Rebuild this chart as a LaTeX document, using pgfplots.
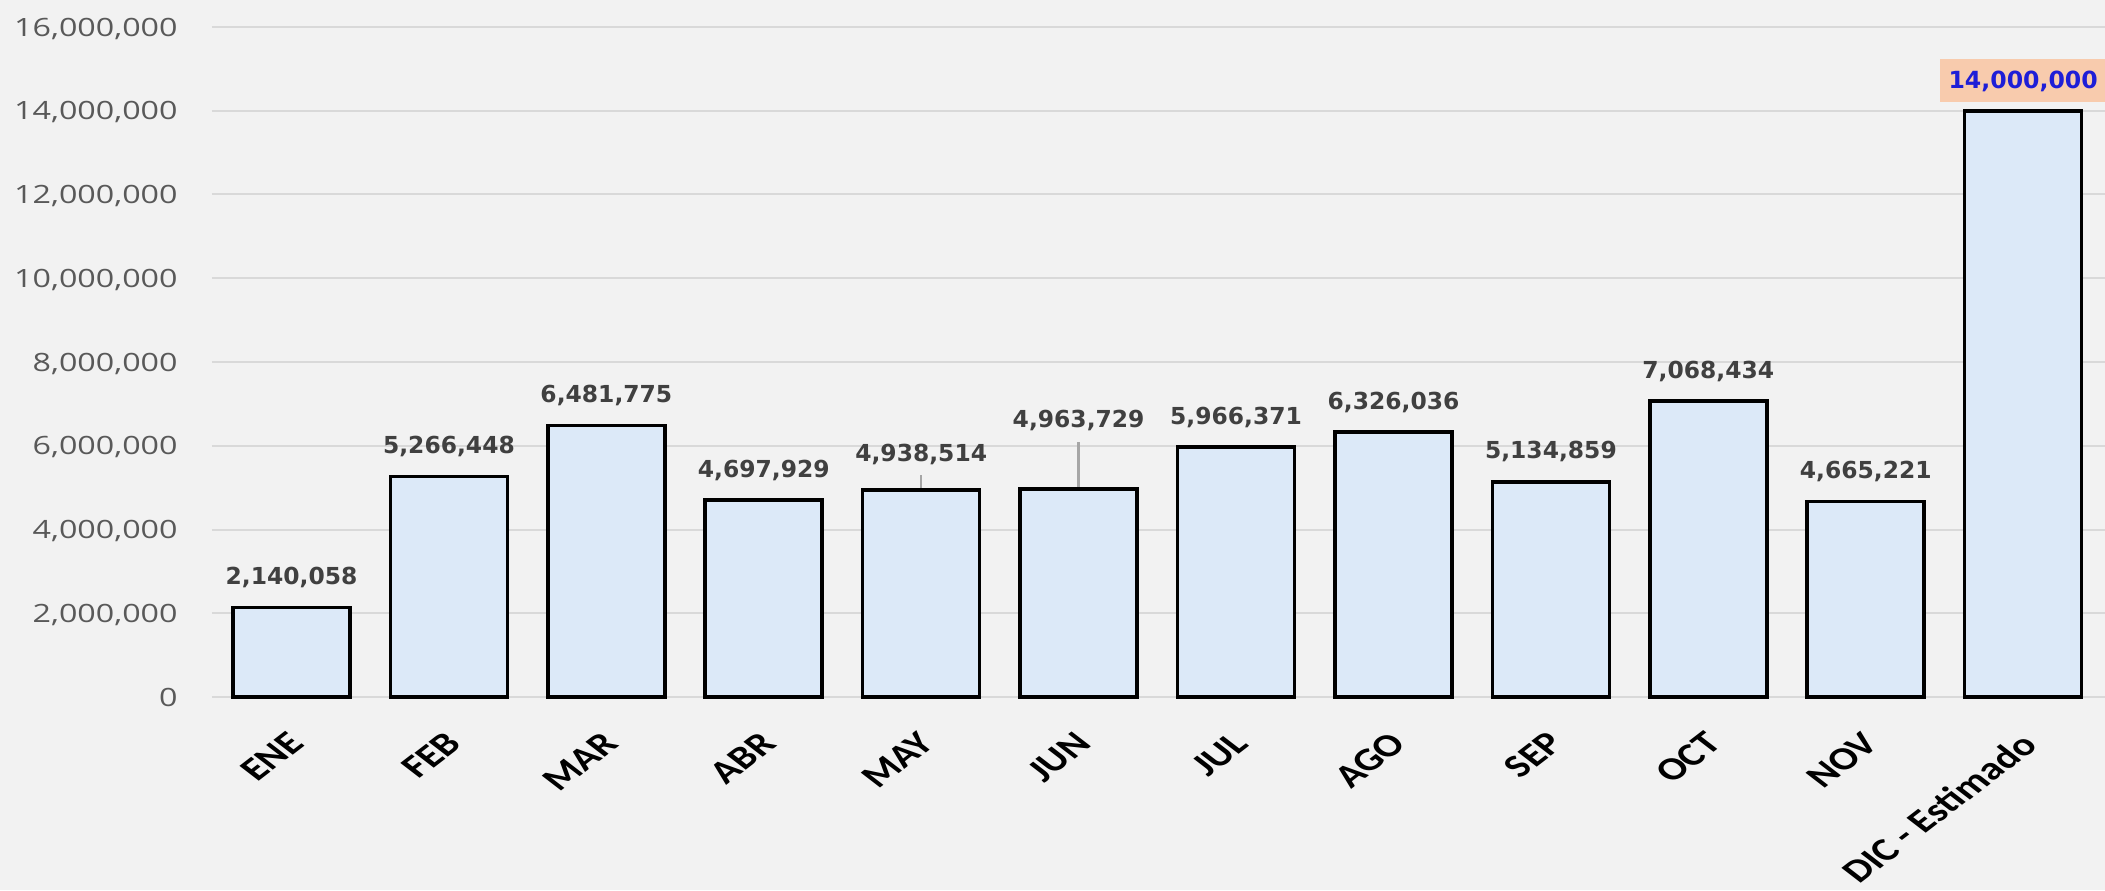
\documentclass[border=0pt]{standalone}
\usepackage{pgfplots}
\pgfplotsset{compat=1.18}
\usepackage{pgfplotstable}
\usepackage{fontspec}
\setmainfont{Open Sans}
\newfontfamily\tickfont{Open Sans}[FakeStretch=1.28]
\newfontfamily\lblfont{DejaVu Sans}
\newfontfamily\catfont{Carlito}
\definecolor{bgc}{HTML}{F2F2F2}
\definecolor{gridc}{HTML}{D9D9D9}
\definecolor{barc}{RGB}{220,233,248}
\definecolor{tickc}{HTML}{595959}
\definecolor{lblc}{HTML}{404040}
\definecolor{leadc}{HTML}{A6A6A6}
\definecolor{dicblue}{RGB}{30,30,215}
\definecolor{peach}{HTML}{F8CBAD}

\pgfplotstableread{
x y
0 2140058
1 5266448
2 6481775
3 4697929
4 4938514
5 4963729
6 5966371
7 6326036
8 5134859
9 7068434
10 4665221
11 14000000
}\bars

\pgfplotstableread{
x ly lab
0 2689058 2,140,058
1 5815448 5,266,448
2 7030775 6,481,775
3 5246929 4,697,929
4 5612000 4,938,514
5 6424000 4,963,729
6 6515371 5,966,371
7 6875036 6,326,036
8 5683859 5,134,859
9 7617434 7,068,434
10 5214221 4,665,221
}\labs

\pgfplotstableread{
x ly lab
11 14520000 14,000,000
}\diclab

\begin{document}
\begin{tikzpicture}
\fill[bgc] (0,0) rectangle (1052.5pt,445pt);
\begin{axis}[
  at={(106pt,96.5pt)}, anchor=south west,
  scale only axis, width=946.5pt, height=335pt,
  xmin=-0.505, xmax=11.52, ymin=0, ymax=16000000,
  clip=false,
  scaled y ticks=false,
  axis line style={draw=none},
  major tick length=0pt,
  ymajorgrids,
  grid style={draw=gridc, line width=1pt},
  ytick={0,2000000,4000000,6000000,8000000,10000000,12000000,14000000,16000000},
  yticklabels={0,{2,000,000},{4,000,000},{6,000,000},{8,000,000},{10,000,000},{12,000,000},{14,000,000},{16,000,000}},
  yticklabel style={font=\tickfont\fontsize{12.6}{14}\selectfont, text=tickc, anchor=east, inner sep=0pt, text depth=0pt, xshift=-17pt},
  xtick={0,1,2,3,4,5,6,7,8,9,10,11},
  xticklabels={ENE,FEB,MAR,ABR,MAY,JUN,JUL,AGO,SEP,OCT,NOV,DIC - Estimado},
  xticklabel style={font=\catfont\bfseries\fontsize{16.2}{18}\selectfont, text=black, inner sep=0pt, xshift=-2.5pt, yshift=-16.5pt, xscale=1.3, rotate=45, anchor=north east},
]
\addplot[leadc, line width=1.2pt] coordinates {(4,4938514) (4,5301000)};
\addplot[leadc, line width=1.2pt] coordinates {(5,4963729) (5,6090000)};
\addplot[ybar, bar width=58.5pt, fill=barc, draw=black, line width=1.8pt] table[x=x,y=y]{\bars};
\addplot[draw=none, mark=none, nodes near coords, point meta=explicit symbolic,
  nodes near coords style={font=\lblfont\bfseries\fontsize{11.7}{13}\selectfont, text=lblc, anchor=base, inner sep=0pt, text depth=0pt}]
  table[x=x,y=ly,meta=lab]{\labs};
\addplot[draw=none, mark=none, nodes near coords, point meta=explicit symbolic,
  nodes near coords style={font=\lblfont\bfseries\fontsize{11.8}{13}\selectfont, text=dicblue, fill=peach, anchor=base, inner xsep=4.5pt, inner ysep=6.5pt, text height=8.7pt, text depth=0pt}]
  table[x=x,y=ly,meta=lab]{\diclab};
\end{axis}
\pgfresetboundingbox
\path (0,0) rectangle (1052.5pt,445pt);
\end{tikzpicture}
\end{document}
